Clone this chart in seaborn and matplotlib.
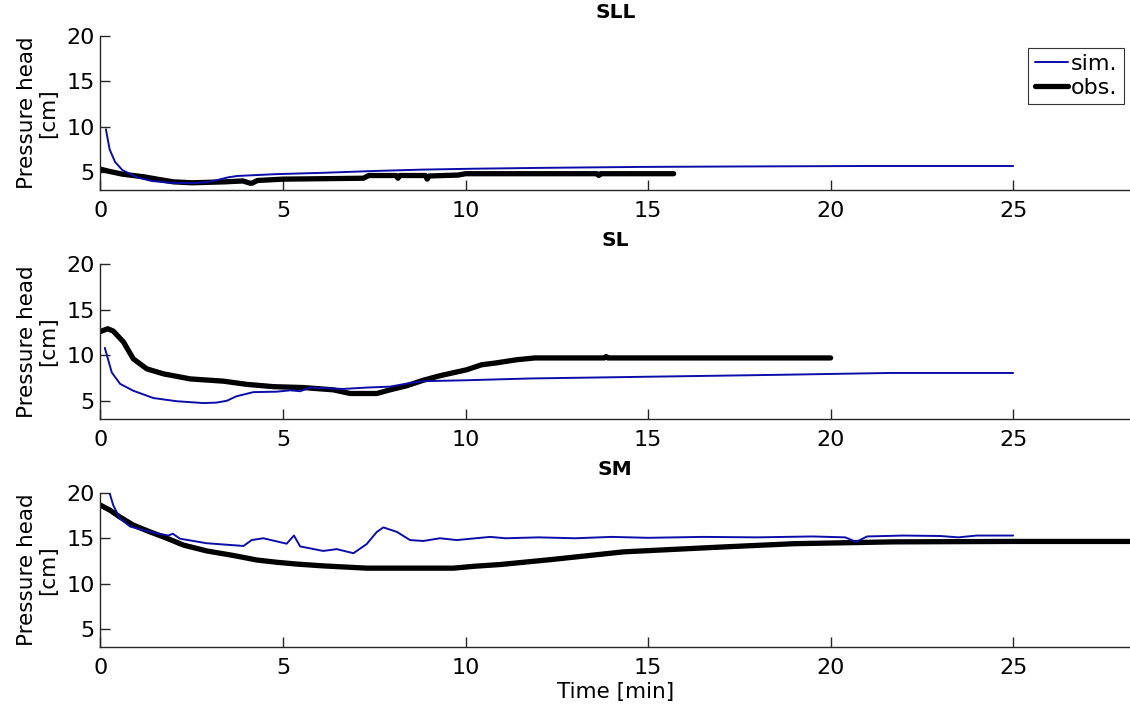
import matplotlib
matplotlib.use("Agg")
import matplotlib.pyplot as plt
import seaborn as sns

# ---- SLL ----
sll_sim_t = [0.15, 0.25, 0.4, 0.6, 1.0, 1.4, 1.9, 2.5, 2.9, 3.2, 3.5, 3.75, 4.8, 6.1,
             7.5, 8.8, 10.2, 12.2, 14.8, 17.5, 20.9, 25.0]
sll_sim_h = [9.7, 7.5, 6.1, 5.2, 4.4, 4.0, 3.8, 3.75, 3.85, 4.1, 4.4, 4.55, 4.75, 4.9,
             5.1, 5.25, 5.35, 5.45, 5.55, 5.6, 5.65, 5.65]
sll_obs_t = [0.0, 0.25, 0.6, 1.2, 1.55, 2.0, 2.5, 3.4, 3.9, 4.1, 4.15, 4.3, 5.0, 7.2,
             7.35, 8.1, 8.15, 8.2, 8.9, 8.95, 9.0, 9.8, 10.0, 13.6, 13.65, 13.7, 15.7]
sll_obs_h = [5.3, 5.05, 4.75, 4.45, 4.2, 3.9, 3.8, 3.9, 4.0, 3.75, 3.75, 4.05, 4.2, 4.3,
             4.6, 4.6, 4.3, 4.6, 4.6, 4.2, 4.55, 4.65, 4.8, 4.8, 4.6, 4.8, 4.8]

# ---- SL ----
sl_sim_t = [0.12, 0.31, 0.54, 0.9, 1.45, 2.09, 2.82, 3.18, 3.46, 3.73, 4.19, 4.83, 5.2,
            5.47, 5.74, 6.65, 7.29, 7.93, 8.48, 8.84, 10.0, 11.8, 15.2, 18.6, 21.6, 25.0]
sl_sim_h = [10.8, 8.1, 6.85, 6.1, 5.3, 4.95, 4.75, 4.8, 5.0, 5.5, 5.95, 6.0, 6.15,
            6.05, 6.45, 6.3, 6.45, 6.55, 6.95, 7.15, 7.25, 7.45, 7.65, 7.85, 8.05, 8.05]
sl_obs_t = [0.0, 0.2, 0.35, 0.63, 0.9, 1.27, 1.73, 2.46, 3.37, 4.01, 4.74, 5.56, 6.38,
            6.84, 7.57, 7.93, 8.39, 8.84, 9.3, 10.03, 10.44, 10.83, 11.4, 11.9, 13.8,
            13.85, 13.9, 20.0]
sl_obs_h = [12.6, 12.9, 12.65, 11.45, 9.6, 8.5, 7.95, 7.4, 7.15, 6.8, 6.55, 6.45, 6.2,
            5.8, 5.8, 6.2, 6.65, 7.25, 7.75, 8.4, 8.95, 9.15, 9.5, 9.7, 9.7,
            9.85, 9.7, 9.7]

# ---- SM ----
sm_sim_t = [0.25, 0.35, 0.53, 0.81, 1.17, 1.54, 1.86, 1.98, 2.18, 2.91, 3.92, 4.14, 4.46,
            5.1, 5.3, 5.47, 6.1, 6.47, 6.93, 7.29, 7.57, 7.75, 8.12, 8.48, 8.84, 9.3,
            9.76, 10.67, 11.1, 12.0, 13.0, 14.0, 15.0, 16.5, 18.0, 19.5, 20.4, 20.7,
            21.0, 22.0, 23.0, 23.5, 24.0, 25.0]
sm_sim_h = [20.0, 18.65, 17.2, 16.3, 15.9, 15.55, 15.3, 15.5, 14.95, 14.45, 14.15, 14.8,
            15.0, 14.4, 15.3, 14.1, 13.6, 13.8, 13.35, 14.35, 15.7, 16.2, 15.7, 14.8,
            14.7, 15.0, 14.8, 15.15, 15.0, 15.1, 15.0, 15.15, 15.05, 15.15, 15.1, 15.2,
            15.1, 14.6, 15.2, 15.3, 15.25, 15.1, 15.3, 15.3]
sm_obs_t = [0.0, 0.26, 0.53, 0.9, 1.36, 1.82, 2.27, 2.91, 3.64, 4.28, 4.83, 5.38, 6.1,
            7.29, 9.67, 10.21, 10.95, 12.35, 14.33, 17.1, 19.0, 21.7, 25.0, 28.2]
sm_obs_h = [18.65, 18.1, 17.35, 16.45, 15.7, 15.0, 14.25, 13.6, 13.1, 12.6, 12.35, 12.15,
            11.95, 11.7, 11.7, 11.9, 12.1, 12.65, 13.5, 14.05, 14.4, 14.6, 14.65, 14.65]

titles = ["SLL", "SL", "SM"]
series = [
    (sll_sim_t, sll_sim_h, sll_obs_t, sll_obs_h),
    (sl_sim_t, sl_sim_h, sl_obs_t, sl_obs_h),
    (sm_sim_t, sm_sim_h, sm_obs_t, sm_obs_h),
]
x_ticks = [0, 5, 10, 15, 20, 25]
y_ticks = [5, 10, 15, 20]

sns.set_theme(style="ticks")
plt.rcParams["font.family"] = ["DejaVu Sans"]
plt.rcParams["text.color"] = "black"
plt.rcParams["axes.labelcolor"] = "black"

SIM_COLOR = "#0c0ca8"
AX_COLOR = "#262626"

fig = plt.figure(figsize=(11.3, 7.09), dpi=100)
left, width = 0.0889, 0.9111
rects = [(left, 0.732, width, 0.2172),
         (left, 0.409, width, 0.2186),
         (left, 0.0875, width, 0.2172)]

for i, (rect, title, (st, sh, ot, oh)) in enumerate(zip(rects, titles, series)):
    ax = fig.add_axes(rect)
    sns.lineplot(x=ot, y=oh, ax=ax, color="black", linewidth=3.8,
                 estimator=None, sort=False, label="obs.", zorder=2)
    sns.lineplot(x=st, y=sh, ax=ax, color=SIM_COLOR, linewidth=1.4,
                 estimator=None, sort=False, label="sim.", zorder=3)
    ax.set_xlim(0, 28.2)
    ax.set_ylim(3, 20)
    ax.set_xticks(x_ticks)
    ax.set_yticks(y_ticks)
    ax.set_title(title, fontsize=14.5, fontweight="bold", pad=13, color="black")
    ax.set_ylabel("Pressure head\n[cm]", fontsize=15.5, labelpad=6, linespacing=1.05)
    ax.set_xlabel("Time [min]" if i == 2 else "", fontsize=15.5, labelpad=3)
    sns.despine(ax=ax)
    for side in ("left", "bottom"):
        ax.spines[side].set_color(AX_COLOR)
        ax.spines[side].set_linewidth(1.0)
    ax.tick_params(direction="in", length=7, width=1.0, colors=AX_COLOR,
                   labelcolor="black", labelsize=16, pad=4)
    ax.tick_params(axis="x", pad=8)
    if i == 0:
        handles, labels = ax.get_legend_handles_labels()
        order = [labels.index("sim."), labels.index("obs.")]
        leg = ax.legend([handles[k] for k in order], [labels[k] for k in order],
                        loc="upper right", bbox_to_anchor=(0.994, 0.925),
                        fontsize=16, frameon=True, fancybox=False,
                        handlelength=1.5, handletextpad=0.1, borderpad=0.3,
                        borderaxespad=0.0, labelspacing=0.15)
        leg.get_frame().set_edgecolor("black")
        leg.get_frame().set_linewidth(0.8)
    else:
        ax.get_legend().remove()

fig.savefig("out.png", dpi=100)
